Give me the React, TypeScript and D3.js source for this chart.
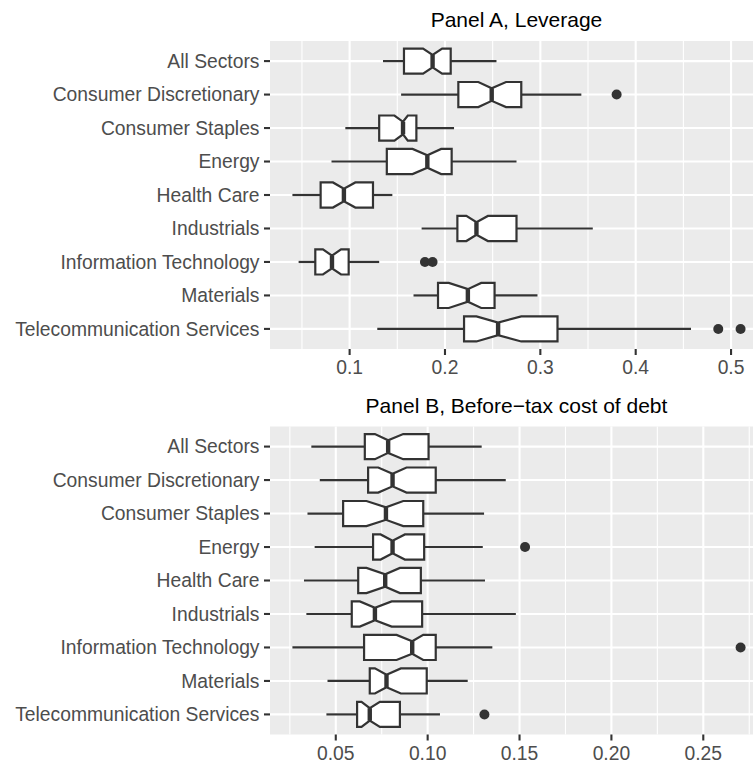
import React from "react";
import * as d3 from "d3";

const categories = [
  "All Sectors",
  "Consumer Discretionary",
  "Consumer Staples",
  "Energy",
  "Health Care",
  "Industrials",
  "Information Technology",
  "Materials",
  "Telecommunication Services",
];

// Panel A, Leverage
const levWhiskerLow = [0.135, 0.154, 0.0955, 0.081, 0.04, 0.1755, 0.0465, 0.167, 0.129];
const levQ1 = [0.157, 0.214, 0.131, 0.139, 0.0696, 0.213, 0.064, 0.1927, 0.22];
const levNotchLow = [0.177, 0.235, 0.147, 0.166, 0.0825, 0.2224, 0.072, 0.204, 0.233];
const levMedian = [0.187, 0.249, 0.156, 0.1815, 0.094, 0.233, 0.0815, 0.224, 0.2557];
const levNotchHigh = [0.197, 0.264, 0.161, 0.196, 0.106, 0.245, 0.091, 0.238, 0.28];
const levQ3 = [0.206, 0.28, 0.17, 0.207, 0.1245, 0.275, 0.099, 0.252, 0.318];
const levWhiskerHigh = [0.254, 0.343, 0.2095, 0.275, 0.1448, 0.355, 0.131, 0.297, 0.458];
const levOutliers = [[], [0.38], [], [], [], [], [0.179, 0.187], [], [0.4866, 0.51]];
const levTicks = [0.1, 0.2, 0.3, 0.4, 0.5];
const levTickLabels = ["0.1", "0.2", "0.3", "0.4", "0.5"];

// Panel B, Before-tax cost of debt
const debtWhiskerLow = [0.0367, 0.0413, 0.0346, 0.0385, 0.0327, 0.034, 0.0264, 0.0455, 0.0449];
const debtQ1 = [0.0658, 0.0676, 0.054, 0.0703, 0.0622, 0.0587, 0.0654, 0.0685, 0.0616];
const debtNotchLow = [0.0713, 0.0731, 0.0667, 0.0744, 0.0667, 0.0631, 0.0831, 0.0713, 0.064];
const debtMedian = [0.0785, 0.0809, 0.0773, 0.0809, 0.0769, 0.0713, 0.0916, 0.0776, 0.0685];
const debtNotchHigh = [0.0867, 0.0885, 0.0867, 0.0876, 0.0849, 0.0804, 0.0976, 0.0854, 0.074];
const debtQ3 = [0.1005, 0.1044, 0.0976, 0.0981, 0.0963, 0.097, 0.1044, 0.0995, 0.0849];
const debtWhiskerHigh = [0.1294, 0.1425, 0.1307, 0.13, 0.1312, 0.148, 0.1352, 0.1218, 0.1067];
const debtOutliers = [[], [], [], [0.153], [], [], [0.2703], [], [0.1309]];
const debtTicks = [0.05, 0.1, 0.15, 0.2, 0.25];
const debtTickLabels = ["0.05", "0.10", "0.15", "0.20", "0.25"];

const FONT = "'Liberation Sans', Arial, Helvetica, sans-serif";
const AXIS_COLOR = "#4D4D4D";
const LINE = "#333333";
const AXIS_FS = 19.3;

type PanelProps = {
  title: string;
  top: number;
  bottom: number;
  wl: number[];
  q1: number[];
  nl: number[];
  med: number[];
  nh: number[];
  q3: number[];
  wh: number[];
  outliers: number[][];
  ticks: number[];
  tickLabels: string[];
};

function Panel(p: PanelProps) {
  const left = 270;
  const right = 763;
  const all = [...p.wl, ...p.wh, ...p.outliers.flat()];
  const lo = d3.min(all) as number;
  const hi = d3.max(all) as number;
  const pad = (hi - lo) * 0.05;
  const x = d3.scaleLinear().domain([lo - pad, hi + pad]).range([left, right]);
  const y = d3.scalePoint<string>().domain(categories).range([p.top, p.bottom]).padding(0.6);
  const step = y.step();
  const half = (step * 0.75) / 2;
  const indent = half * 0.5;

  const minor: number[] = [];
  const tstep = p.ticks[1] - p.ticks[0];
  for (let v = p.ticks[0] - tstep / 2; v <= hi + pad + tstep; v += tstep) {
    const xv = x(v);
    if (xv >= left && xv <= right) minor.push(v);
  }

  return (
    <g>
      <text
        x={(left + right) / 2}
        y={p.top - 14}
        textAnchor="middle"
        fontFamily={FONT}
        fontSize={21}
        fill="#000"
      >
        {p.title}
      </text>
      <rect x={left} y={p.top} width={right - left} height={p.bottom - p.top} fill="#EBEBEB" />
      {minor.map((v, i) => (
        <line key={"mn" + i} x1={x(v)} x2={x(v)} y1={p.top} y2={p.bottom} stroke="#fff" strokeWidth={1.1} />
      ))}
      {p.ticks.map((v, i) => (
        <line key={"mj" + i} x1={x(v)} x2={x(v)} y1={p.top} y2={p.bottom} stroke="#fff" strokeWidth={2.1} />
      ))}
      {categories.map((c) => (
        <line key={"hg" + c} x1={left} x2={right} y1={y(c)} y2={y(c)} stroke="#fff" strokeWidth={2.1} />
      ))}
      {categories.map((c, i) => {
        const cy = y(c) as number;
        const t = cy - half;
        const b = cy + half;
        const poly = [
          [x(p.q1[i]), t],
          [x(p.nl[i]), t],
          [x(p.med[i]), t + indent],
          [x(p.nh[i]), t],
          [x(p.q3[i]), t],
          [x(p.q3[i]), b],
          [x(p.nh[i]), b],
          [x(p.med[i]), b - indent],
          [x(p.nl[i]), b],
          [x(p.q1[i]), b],
        ];
        return (
          <g key={"bx" + c}>
            <line x1={x(p.wl[i])} x2={x(p.q1[i])} y1={cy} y2={cy} stroke={LINE} strokeWidth={2.2} />
            <line x1={x(p.q3[i])} x2={x(p.wh[i])} y1={cy} y2={cy} stroke={LINE} strokeWidth={2.2} />
            <polygon
              points={poly.map((q) => q.join(",")).join(" ")}
              fill="#fff"
              stroke={LINE}
              strokeWidth={2.2}
              strokeLinejoin="miter"
            />
            <line
              x1={x(p.med[i])}
              x2={x(p.med[i])}
              y1={t + indent}
              y2={b - indent}
              stroke={LINE}
              strokeWidth={4.4}
            />
            {p.outliers[i].map((o, j) => (
              <circle key={j} cx={x(o)} cy={cy} r={5} fill={LINE} />
            ))}
          </g>
        );
      })}
      {categories.map((c) => (
        <g key={"yl" + c}>
          <line x1={left - 6} x2={left} y1={y(c)} y2={y(c)} stroke={LINE} strokeWidth={2.1} />
          <text
            x={left - 10.5}
            y={(y(c) as number) + 6.8}
            textAnchor="end"
            fontFamily={FONT}
            fontSize={AXIS_FS}
            fill={AXIS_COLOR}
          >
            {c}
          </text>
        </g>
      ))}
      {p.ticks.map((v, i) => (
        <g key={"xl" + i}>
          <line x1={x(v)} x2={x(v)} y1={p.bottom} y2={p.bottom + 6} stroke={LINE} strokeWidth={2.1} />
          <text
            x={x(v)}
            y={p.bottom + 25}
            textAnchor="middle"
            fontFamily={FONT}
            fontSize={AXIS_FS}
            fill={AXIS_COLOR}
          >
            {p.tickLabels[i]}
          </text>
        </g>
      ))}
    </g>
  );
}

export default function App() {
  return (
    <svg
      width={753}
      height={763}
      style={{ position: "absolute", left: 0, top: 0, background: "#fff" }}
    >
      <rect x={0} y={0} width={753} height={763} fill="#fff" />
      <Panel
        title="Panel A, Leverage"
        top={41}
        bottom={349}
        wl={levWhiskerLow}
        q1={levQ1}
        nl={levNotchLow}
        med={levMedian}
        nh={levNotchHigh}
        q3={levQ3}
        wh={levWhiskerHigh}
        outliers={levOutliers}
        ticks={levTicks}
        tickLabels={levTickLabels}
      />
      <Panel
        title="Panel B, Before−tax cost of debt"
        top={426.5}
        bottom={734.5}
        wl={debtWhiskerLow}
        q1={debtQ1}
        nl={debtNotchLow}
        med={debtMedian}
        nh={debtNotchHigh}
        q3={debtQ3}
        wh={debtWhiskerHigh}
        outliers={debtOutliers}
        ticks={debtTicks}
        tickLabels={debtTickLabels}
      />
    </svg>
  );
}
